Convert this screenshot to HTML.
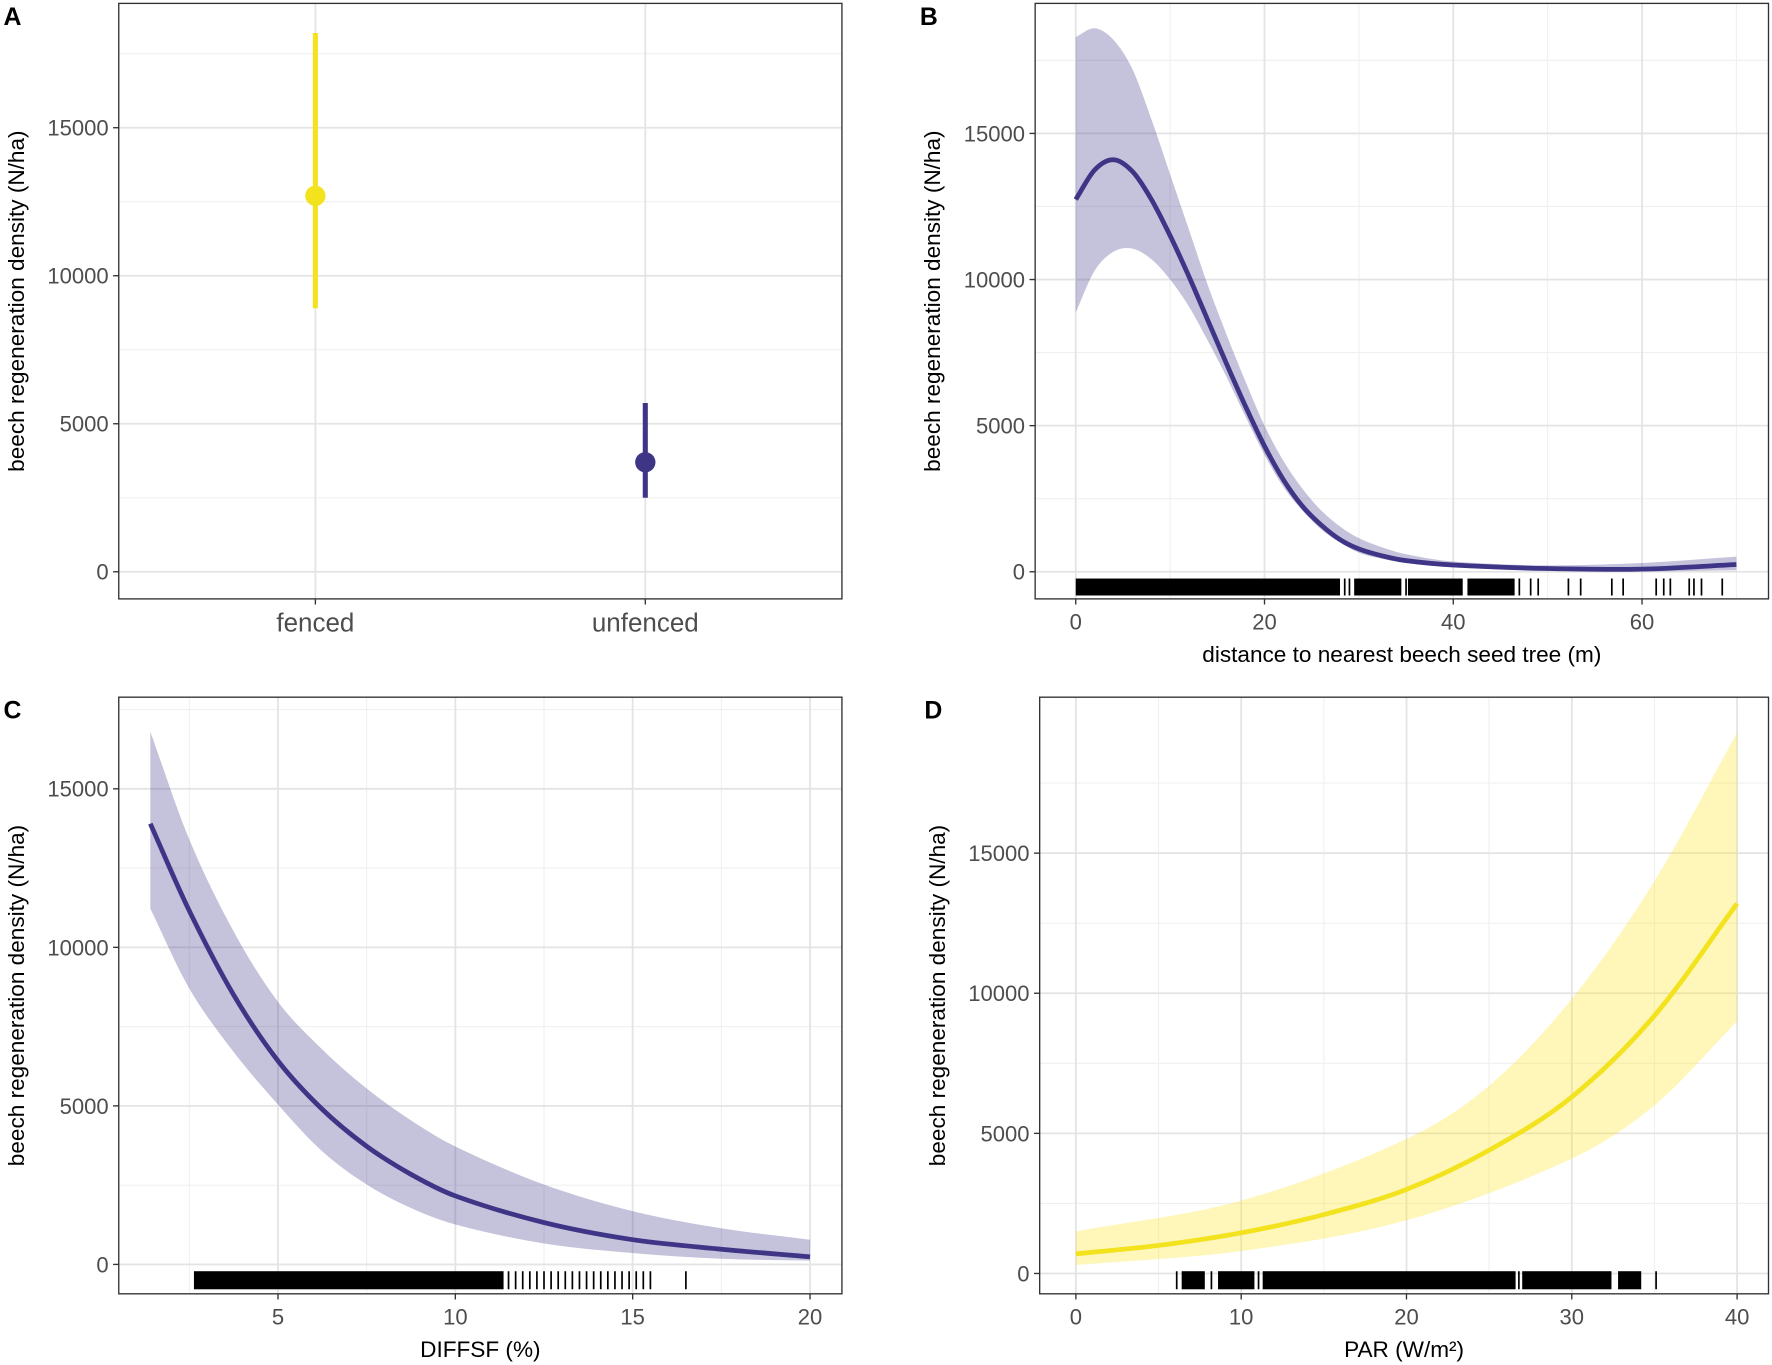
<!DOCTYPE html>
<html><head><meta charset="utf-8"><style>
html,body{margin:0;padding:0;background:#fff}
svg{display:block;font-family:"Liberation Sans",sans-serif}
</style></head><body>
<svg id="fig" width="1772" height="1365" viewBox="0 0 1568 1208" xmlns="http://www.w3.org/2000/svg"></svg>
<script>
// ---------- data ----------
const catA = ["fenced","unfenced"];
const estA = [12700, 3700];
const loA = [8900, 2500];
const hiA = [18200, 5700];

const xB = [0,2,4,6,8,10,12,14,16,18,20,22,24,26,28,30,32.5,35,40,50,60,70];
const yB = [12740,13750,14100,13700,12750,11500,10100,8600,7100,5650,4300,3150,2250,1600,1100,780,540,380,230,110,90,250];
const upB = [18300,18600,18200,17200,15500,13600,11700,9800,8100,6500,5000,3800,2850,2100,1550,1150,830,600,350,220,300,520];
const lowB = [8870,10300,10950,11060,10700,10000,9070,7900,6650,5300,4000,2900,2100,1450,1000,650,440,300,150,40,10,50];
const rugDenseB = [[0,28],[29.5,34.5],[35.2,41],[41.5,46.5]];
const rugB = [28.5,29,35,47,48.2,49,52.2,53.5,56.8,58,61.5,62.3,63,65,65.5,66.3,68.5];

const xC = [1.4,2.5,3.75,5,6.25,7.5,8.75,10,12.5,15,17.5,20];
const yC = [13900,11150,8500,6420,4890,3726,2840,2160,1320,780,480,240];
const upC = [16800,13400,10500,8280,6780,5550,4545,3720,2520,1680,1140,780];
const lowC = [11220,8700,6700,5040,3565,2520,1780,1260,660,360,180,120];
const rugDenseC = [[2.63,11.36]];
const rugC = [11.5,11.7,11.9,12.1,12.3,12.5,12.7,12.9,13.1,13.3,13.5,13.7,13.9,14.1,14.3,14.5,14.7,14.9,15.1,15.3,15.5,16.5];

const xD = [0,5,10,15,20,25,30,35,40];
const yD = [700,1000,1450,2100,3000,4400,6300,9200,13200];
const bandXD = [0,10,20,25,30,35,40];
const upD = [1500,2600,4800,6700,9800,14000,19300];
const bandX2D = [0,10,20,30,35,40];
const lowD = [300,800,1900,4100,6000,9000];
const rugDenseD = [[6.4,7.8],[8.6,10.8],[11.3,26.6],[27,32.4],[32.8,34.2]];
const rugD = [6.1,8.2,11.05,26.8,35.1];

const PURPLE = "#3f3587", YELLOW = "#f3e21e";
const svg = document.getElementById("fig");
const NS = "http://www.w3.org/2000/svg";
function mk(tag, attrs, parent){ const e=document.createElementNS(NS,tag); for(const k in attrs) e.setAttribute(k,attrs[k]); (parent||svg).appendChild(e); return e; }
function smooth(pts){
  const n=pts.length, m=[];
  for(let i=0;i<n;i++){
    const a=pts[Math.max(0,i-1)], b=pts[Math.min(n-1,i+1)];
    m.push((b[1]-a[1])/(b[0]-a[0]));
  }
  let d="M"+pts[0][0]+","+pts[0][1];
  for(let i=0;i<n-1;i++){
    const p1=pts[i],p2=pts[i+1],dx=(p2[0]-p1[0])/3;
    d+=` C${p1[0]+dx},${p1[1]+m[i]*dx} ${p2[0]-dx},${p2[1]-m[i+1]*dx} ${p2[0]},${p2[1]}`;
  }
  return d;
}
function smoothCont(pts){ return smooth(pts).replace(/^M/,"L"); }

function panel(o){
  const g=mk("g",{});
  
  
  const X=v=>o.L+(v-o.x0)/(o.x1-o.x0)*(o.R-o.L);
  const Y=v=>o.B-(v-o.y0)/(o.y1-o.y0)*(o.B-o.T);
  const clipId="clip"+o.letter;
  const cp=mk("clipPath",{id:clipId},g); mk("rect",{x:o.L,y:o.T,width:o.R-o.L,height:o.B-o.T},cp);
  const grid=mk("g",{"clip-path":`url(#${clipId})`},g);
  
  
  o.yMinor.forEach(v=>mk("line",{x1:o.L,x2:o.R,y1:Y(v),y2:Y(v),stroke:"#f0f0f0","stroke-width":1},grid));
  o.xMinor.forEach(v=>mk("line",{x1:X(v),x2:X(v),y1:o.T,y2:o.B,stroke:"#f0f0f0","stroke-width":1},grid));
  o.yTicks.forEach(v=>mk("line",{x1:o.L,x2:o.R,y1:Y(v),y2:Y(v),stroke:"#e4e4e4","stroke-width":1.6},grid));
  o.xTicks.forEach(v=>mk("line",{x1:X(v),x2:X(v),y1:o.T,y2:o.B,stroke:"#e4e4e4","stroke-width":1.6},grid));
  const marks=mk("g",{"clip-path":`url(#${clipId})`},g);
  o.draw(marks,X,Y);
  const fr=mk("rect",{x:o.L,y:o.T,width:o.R-o.L,height:o.B-o.T,fill:"none",stroke:"#333","stroke-width":1.2},g);
  
  
  o.yTicks.forEach(v=>{
    mk("line",{x1:o.L-5,x2:o.L,y1:Y(v),y2:Y(v),stroke:"#333","stroke-width":1.2},g);
    const t=mk("text",{x:o.L-9,y:Y(v)+7,"text-anchor":"end","font-size":19.5,fill:"#4d4d4d"},g);
    t.textContent=v;
    
    
  });
  o.xTicks.forEach((v,i)=>{
    mk("line",{x1:X(v),x2:X(v),y1:o.B,y2:o.B+5,stroke:"#333","stroke-width":1.2},g);
    const t=mk("text",{x:X(v),y:o.B+(o.xLabelSize>20?29:27),"text-anchor":"middle","font-size":o.xLabelSize||19.5,fill:"#4d4d4d"},g);
    t.textContent=o.xLabels?o.xLabels[i]:v;
    
    
  });
  const yt=mk("text",{transform:`translate(${o.L-84},${(o.T+o.B)/2}) rotate(-90)`,"text-anchor":"middle","font-size":20,fill:"#000"},g);
  yt.textContent="beech regeneration density (N/ha)";
  
  
  if(o.xTitle){
    const xt=mk("text",{x:(o.L+o.R)/2,y:o.B+56,"text-anchor":"middle","font-size":20,fill:"#000"},g);
    xt.textContent=o.xTitle;
    
    
  }
  const lt=mk("text",{x:o.L-102,y:o.T+19,"font-size":22,"font-weight":"bold",fill:"#000"},g);
  lt.textContent=o.letter;
  
  
}

function ribbon(g,X,Y,bx,up,bx2,lo,fill,name){
  const top=bx.map((v,i)=>[X(v),Y(up[i])]);
  const bot=bx2.map((v,i)=>[X(v),Y(lo[i])]).reverse();
  const p=mk("path",{d:smooth(top)+" "+smoothCont(bot)+" Z",fill:fill,stroke:"none"},g);
  
  
}
function line(g,X,Y,xs,ys,col,name){
  const p=mk("path",{d:smooth(xs.map((v,i)=>[X(v),Y(ys[i])])),fill:"none",stroke:col,"stroke-width":4.2},g);
  
  
}
function rug(g,X,dense,ticks,y1,y2,name){
  const rg=mk("g",{},g);
  
  
  dense.forEach(r=>mk("rect",{x:X(r[0]),y:y1,width:X(r[1])-X(r[0]),height:y2-y1,fill:"#000"},rg));
  ticks.forEach(v=>mk("line",{x1:X(v),x2:X(v),y1:y1,y2:y2,stroke:"#000","stroke-width":1.5},rg));
}

// Panel A
panel({name:"panel-a",letter:"A",L:105,R:745,T:3,B:530,x0:0.404,x1:2.596,y0:-916,y1:19200,
  xTicks:[1,2],xLabels:catA,xLabelSize:23,xMinor:[],yTicks:[0,5000,10000,15000],yMinor:[2500,7500,12500,17500],
  draw:(g,X,Y)=>{
    catA.forEach((c,i)=>{
      const col=i===0?YELLOW:PURPLE;
      const l=mk("line",{x1:X(i+1),x2:X(i+1),y1:Y(loA[i]),y2:Y(hiA[i]),stroke:col,"stroke-width":4.5},g);
      
      
      const p=mk("circle",{cx:X(i+1),cy:Y(estA[i]),r:9,fill:col},g);
      
      
    });
  }});

// Panel B
panel({name:"panel-b",letter:"B",L:916,R:1565,T:3,B:530,x0:-4.3,x1:73.4,y0:-928,y1:19450,
  xTicks:[0,20,40,60],xMinor:[10,30,50,70],yTicks:[0,5000,10000,15000],yMinor:[2500,7500,12500,17500],
  xTitle:"distance to nearest beech seed tree (m)",
  draw:(g,X,Y)=>{
    ribbon(g,X,Y,xB,upB,xB,lowB,"rgba(63,53,135,0.3)","confidence-band");
    line(g,X,Y,xB,yB,PURPLE,"fitted-line");
    rug(g,X,rugDenseB,rugB,512,527,"rug-marks");
  }});

// Panel C
panel({name:"panel-c",letter:"C",L:105,R:745,T:617,B:1145,x0:0.51,x1:20.9,y0:-927,y1:17890,
  xTicks:[5,10,15,20],xMinor:[2.5,7.5,12.5,17.5],yTicks:[0,5000,10000,15000],yMinor:[2500,7500,12500,17500],
  xTitle:"DIFFSF (%)",
  draw:(g,X,Y)=>{
    ribbon(g,X,Y,xC,upC,xC,lowC,"rgba(63,53,135,0.3)","confidence-band");
    line(g,X,Y,xC,yC,PURPLE,"fitted-line");
    rug(g,X,rugDenseC,rugC,1125,1141,"rug-marks");
  }});

// Panel D
panel({name:"panel-d",letter:"D",L:920,R:1565,T:617,B:1145,x0:-2.19,x1:41.9,y0:-726,y1:20565,
  xTicks:[0,10,20,30,40],xMinor:[5,15,25,35],yTicks:[0,5000,10000,15000],yMinor:[2500,7500,12500,17500],
  xTitle:"PAR (W/m²)",
  draw:(g,X,Y)=>{
    ribbon(g,X,Y,bandXD,upD,bandX2D,lowD,"rgba(253,231,37,0.32)","confidence-band");
    line(g,X,Y,xD,yD,YELLOW,"fitted-line");
    rug(g,X,rugDenseD,rugD,1125,1141,"rug-marks");
  }});
</script>
</body></html>
